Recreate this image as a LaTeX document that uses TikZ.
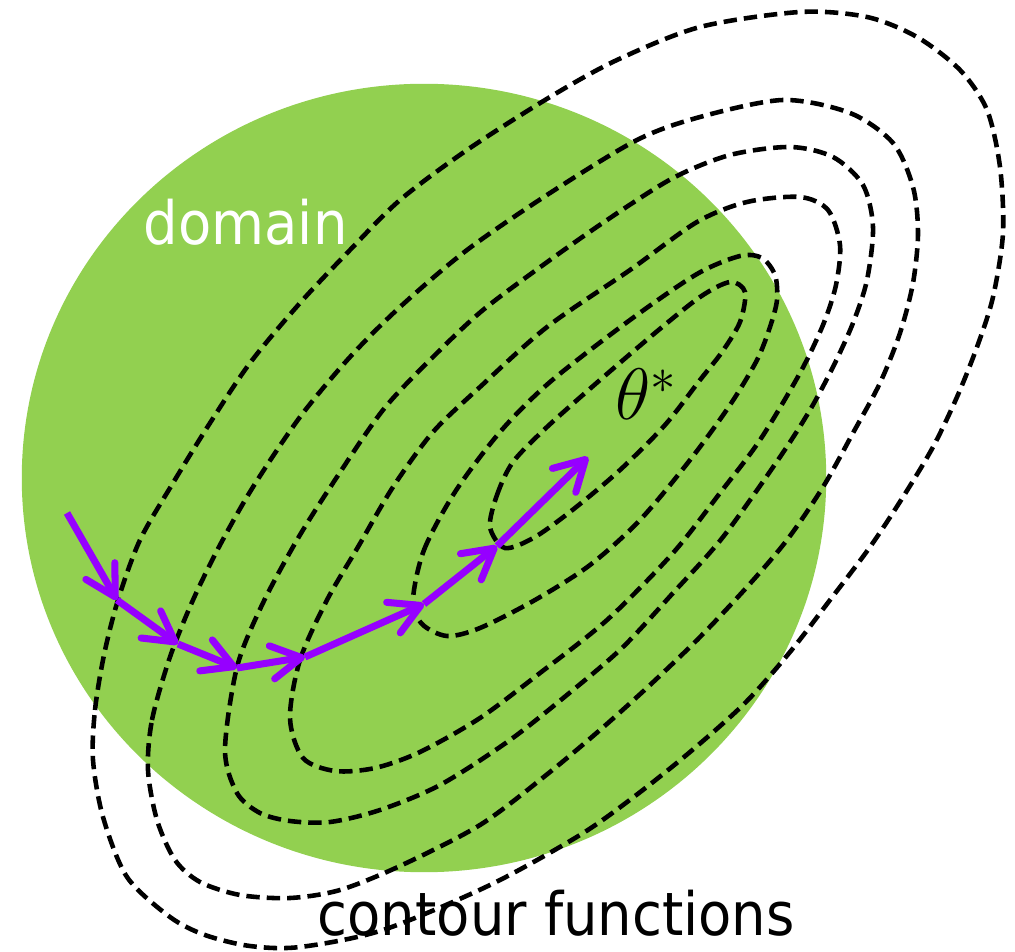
\documentclass[tikz,border=0pt]{standalone}
\usepackage{fontspec}
\newfontfamily\labelfont{DejaVu Sans}[FakeStretch=0.91]
\usetikzlibrary{arrows.meta}
\definecolor{domaingreen}{RGB}{146,208,80}
\definecolor{stepviolet}{RGB}{150,0,255}

\begin{document}
\begin{tikzpicture}[
  x=0.01cm, y=-0.01cm,
  contour/.style={draw=black, line width=1.3pt, dash pattern=on 3.8pt off 2pt, smooth cycle, tension=0.5},
  gdstep/.style={draw=stepviolet, line width=2pt, -{Straight Barb[length=8.5pt, width=9.5pt, round]}},
  lbl/.style={inner sep=0pt, font=\labelfont\fontsize{17}{20}\selectfont}
]
\useasboundingbox (0,0) rectangle (1015,952);

% domain
\fill[domaingreen] (424,478) ellipse [x radius=4.02cm, y radius=3.94cm];
\node[lbl, text=white, anchor=base west] (lbldomain) at (143,245) {domain};

% level sets, inner to outer
\draw[contour] plot coordinates {(490,527) (497,495) (513,462) (547,427) (600,380) (655,333) (700,297) (730,282) (745,292) (740,322) (722,352) (700,380) (665,425) (620,470) (575,508) (535,537) (505,548)};
\draw[contour] plot coordinates {(413,600) (424,550) (455,492) (500,432) (550,382) (630,320) (697,274) (740,256) (762,258) (775,275) (777,300) (770,327) (757,360) (730,405) (690,460) (640,520) (590,565) (535,600) (480,628) (447,636) (422,624)};
\draw[contour] plot coordinates {(290,718) (300,660) (327,600) (358,547) (393,487) (433,432) (480,387) (547,327) (630,270) (697,222) (747,202) (800,197) (828,210) (840,245) (836,285) (823,325) (800,373) (760,440) (720,493) (673,553) (607,620) (540,673) (480,718) (420,752) (375,768) (335,771) (303,758)};
\draw[contour] plot coordinates {(225,750) (237,667) (262,605) (297,540) (333,483) (383,410) (433,357) (483,310) (550,260) (610,218) (673,178) (730,155) (790,147) (833,157) (863,185) (873,227) (867,280) (853,323) (833,367) (810,410) (780,457) (723,537) (673,593) (623,647) (573,690) (510,740) (440,785) (380,810) (330,822) (290,821) (260,813) (237,793)};
\draw[contour] plot coordinates {(148,770) (152,720) (170,657) (193,600) (220,545) (253,487) (300,417) (350,357) (400,307) (467,250) (550,193) (637,140) (700,117) (783,100) (850,113) (893,143) (913,187) (918,233) (913,283) (900,333) (880,383) (853,433) (823,487) (787,540) (747,587) (700,637) (650,685) (600,730) (545,776) (480,825) (400,866) (340,890) (290,898) (240,895) (200,882) (175,860) (157,820)};
\draw[contour] plot coordinates {(93,760) (95,710) (104,655) (118,600) (140,540) (173,483) (210,423) (250,363) (300,303) (350,250) (400,200) (467,150) (550,97) (617,60) (700,27) (800,12) (867,17) (917,37) (960,70) (987,110) (1000,167) (1003,233) (993,297) (977,347) (957,397) (933,447) (903,497) (870,547) (830,600) (790,652) (745,703) (690,752) (635,796) (580,835) (490,885) (383,930) (300,947) (250,946) (205,935) (170,917) (127,877) (103,817)};
\node[lbl, anchor=base west] (lblcontour) at (317,935) {contour functions};

% descent path
\coordinate (p0) at (67,513);
\coordinate (p1) at (117,600);
\coordinate (p2) at (178,644);
\coordinate (p3) at (237,668);
\coordinate (p4) at (305,657);
\coordinate (p5) at (424,604);
\coordinate (p6) at (497,546);
\coordinate (p7) at (588,457);
\foreach \i [count=\j from 1] in {0,...,6}
  \draw[gdstep] (p\i) -- (p\j);
\node[lbl, font=\fontsize{20}{24}\selectfont, anchor=base west] (lbltheta) at (615,420) {$\theta^*$};
\end{tikzpicture}
\end{document}
